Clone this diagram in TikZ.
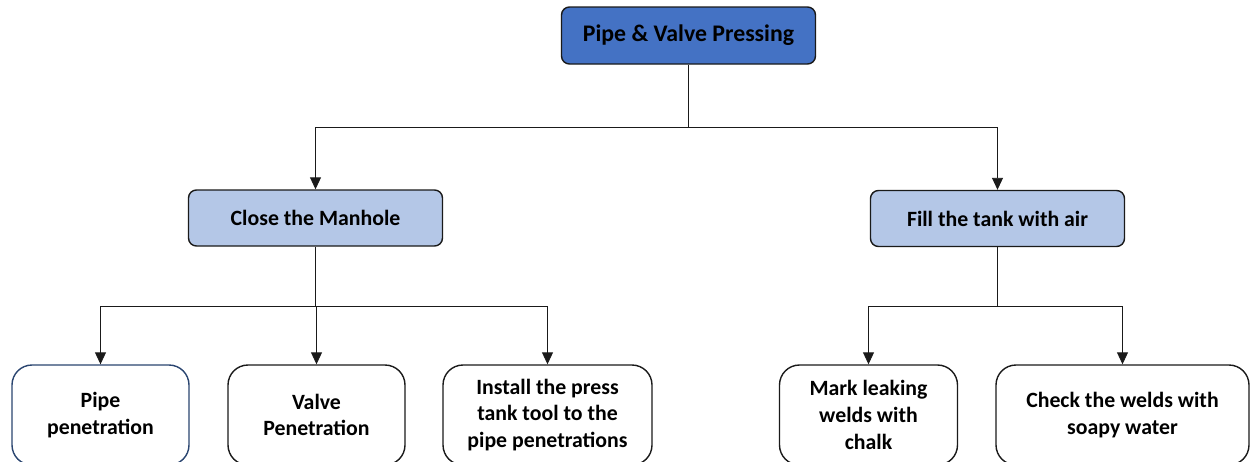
\documentclass[tikz,border=0pt]{standalone}
\usepackage{fontspec}
\setmainfont{Carlito}
\usetikzlibrary{arrows.meta}
\definecolor{headblue}{HTML}{4472C4}
\definecolor{midblue}{HTML}{B4C7E7}
\definecolor{navyedge}{HTML}{2A4570}
\definecolor{edge}{HTML}{1A1A1A}
\tikzset{
  base/.style={draw=edge, line width=1.4pt, align=center, font=\bfseries\fontsize{21.8}{26.8}\selectfont, inner sep=0pt},
  headbox/.style={base, fill=headblue, rounded corners=8pt, minimum width=254pt, minimum height=57pt, font=\bfseries\fontsize{23.8}{28}\selectfont},
  midbox/.style={base, fill=midblue, rounded corners=8pt, minimum width=254pt, minimum height=56pt},
  leafbox/.style={base, fill=white, rounded corners=20pt, minimum height=100pt},
  arr/.style={draw=edge, line width=0.9pt, -{Triangle[length=12pt,width=11pt]}},
  link/.style={draw=edge, line width=0.9pt}
}
\begin{document}
\begin{tikzpicture}[x=1pt,y=-1pt]
  \useasboundingbox (0,0) rectangle (1251,461);
  \clip (0,0) rectangle (1251,461);

  % root and the two main steps
  \node[headbox] (root) at (688.5,35.5) {Pipe \& Valve Pressing};
  \node[midbox] (close) at (315.5,218) {Close the Manhole};
  \node[midbox] (fill) at (997.5,218.5) {Fill the tank with air};

  % leaf steps
  \node[leafbox, draw=navyedge, minimum width=177pt] (pipe) at (100.5,415) {Pipe\\penetration};
  \node[leafbox, minimum width=177pt] (valve) at (316.5,415) {Valve\\Penetration};
  \node[leafbox, minimum width=209pt] (install) at (547.5,415) {Install the press\\tank tool to the\\pipe penetrations};
  \node[leafbox, minimum width=178pt] (mark) at (868.5,415) {Mark leaking\\welds with\\chalk};
  \node[leafbox, minimum width=253pt] (check) at (1122.5,415) {Check the welds with\\soapy water};

  % branching points
  \coordinate (topbus) at (root.south |- 0,127);
  \coordinate (leftbus) at (close.south |- 0,306);
  \coordinate (rightbus) at (fill.south |- 0,306);

  % connectors
  \draw[link] (root.south) -- (topbus);
  \draw[arr] (topbus) -| (close.north);
  \draw[arr] (topbus) -| (fill.north);

  \draw[link] (close.south) -- (leftbus);
  \draw[arr] (leftbus) -| (pipe.north);
  \draw[arr] (leftbus) -| (valve.north);
  \draw[arr] (leftbus) -| (install.north);

  \draw[link] (fill.south) -- (rightbus);
  \draw[arr] (rightbus) -| (mark.north);
  \draw[arr] (rightbus) -| (check.north);
\end{tikzpicture}
\end{document}
